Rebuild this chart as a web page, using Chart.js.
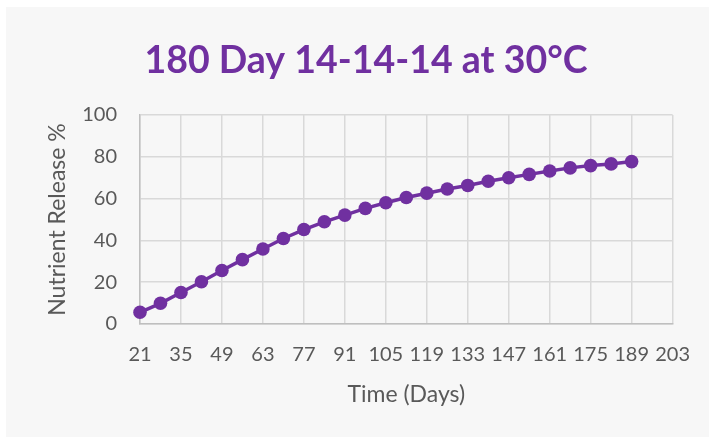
<!DOCTYPE html>
<html>
<head>
<meta charset="utf-8">
<script src="https://cdn.jsdelivr.net/npm/chart.js@4"></script>
<style>
  html, body { margin: 0; padding: 0; background: #ffffff; }
  #wrap { width: 709px; height: 437px; }
</style>
</head>
<body>
<div id="wrap"><canvas id="chart" width="709" height="437"></canvas></div>
<script>
const days = [21, 28, 35, 42, 49, 56, 63, 70, 77, 84, 91, 98, 105, 112, 119, 126, 133, 140, 147, 154, 161, 168, 175, 182, 189];
const release = [5.6, 9.9, 15.1, 20.2, 25.6, 30.8, 35.9, 40.9, 45.2, 48.9, 52.1, 55.3, 58.0, 60.5, 62.6, 64.6, 66.3, 68.3, 70.0, 71.6, 73.2, 74.7, 75.8, 76.6, 77.7];
const xTicks = [21, 35, 49, 63, 77, 91, 105, 119, 133, 147, 161, 175, 189, 203];
const yTicks = [0, 20, 40, 60, 80, 100];

const purple = "#7030a0";
const textGray = "#595959";

// light grey panel behind everything
const panel = {
  id: "panel",
  beforeDraw(chart) {
    const ctx = chart.ctx;
    ctx.save();
    ctx.fillStyle = "#f7f7f7";
    ctx.fillRect(6, 7, chart.width - 6, chart.height - 7);
    ctx.restore();
  },
};

const chart = new Chart(document.getElementById("chart").getContext("2d"), {
  type: "line",
  data: {
    datasets: [
      {
        label: "Nutrient Release",
        data: days.map((d, i) => ({ x: d, y: release[i] })),
        borderColor: purple,
        backgroundColor: purple,
        borderWidth: 3.5,
        pointRadius: 6.8,
        pointBackgroundColor: purple,
        pointBorderWidth: 0,
        tension: 0,
        clip: false,
      },
    ],
  },
  options: {
    responsive: false,
    animation: false,
    // left padding keeps the title centred where the original has it
    layout: { padding: { left: 58, right: 35, top: 0, bottom: 0 } },
    plugins: {
      legend: { display: false },
      tooltip: { enabled: false },
      title: {
        display: true,
        text: "180 Day 14-14-14 at 30°C",
        color: purple,
        font: { family: "Lato", size: 37.5, weight: "bold" },
        padding: { top: 38, bottom: 32 },
      },
    },
    scales: {
      x: {
        type: "linear",
        min: 21,
        max: 203,
        afterBuildTicks: (scale) => {
          scale.ticks = xTicks.map((v) => ({ value: v }));
        },
        afterFit: (scale) => {
          scale.height = 113;
        },
        grid: { color: "#d9d9d9", lineWidth: 1.5, drawTicks: false },
        border: { color: "#bfbfbf", width: 1.5 },
        ticks: {
          autoSkip: false,
          maxRotation: 0,
          padding: 19,
          color: textGray,
          font: { family: "Lato", size: 20 },
        },
        title: {
          display: true,
          text: "Time (Days)",
          color: textGray,
          font: { family: "Lato", size: 23 },
          padding: { bottom: 29 },
        },
      },
      y: {
        min: 0,
        max: 100,
        afterBuildTicks: (scale) => {
          scale.ticks = yTicks.map((v) => ({ value: v }));
        },
        afterFit: (scale) => {
          scale.width = 82;
        },
        grid: { color: "#d9d9d9", lineWidth: 1.5, drawTicks: false },
        border: { color: "#bfbfbf", width: 1.5 },
        ticks: {
          padding: 23,
          color: textGray,
          font: { family: "Lato", size: 20 },
        },
        title: {
          display: true,
          text: "Nutrient Release %",
          color: textGray,
          font: { family: "Lato", size: 23 },
          padding: { top: -14 },
        },
      },
    },
  },
  plugins: [panel],
});
</script>
</body>
</html>
